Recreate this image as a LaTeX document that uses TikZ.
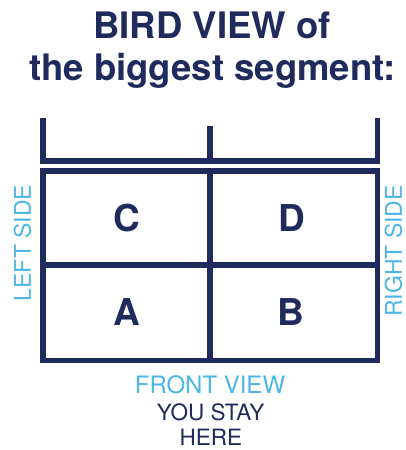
\documentclass[tikz,border=0pt]{standalone}
\usepackage{fontspec}
\setmainfont{TeX Gyre Heros}
\usetikzlibrary{positioning}
\definecolor{navy}{HTML}{1F2B5D}
\definecolor{sky}{HTML}{4CB6E6}

\begin{document}
\begin{tikzpicture}[
  x=1pt,y=-1pt,
  title/.style={anchor=base,inner sep=0pt,text=navy,font=\fontsize{36.5}{42}\selectfont\bfseries},
  cell/.style={inner sep=0pt,text=navy,font=\fontsize{37}{44}\selectfont\bfseries},
  side/.style={inner sep=0pt,rotate=90,text=sky,font=\fontsize{23}{28}\selectfont},
  note/.style={anchor=base,inner sep=0pt,font=\fontsize{22.5}{27}\selectfont},
  wall/.style={line width=5.5pt,draw=navy}
]
\useasboundingbox (0,0) rectangle (406,450);
% title
\node[title] (head1) at (212,38) {BIRD VIEW of};
\node[title] (head2) at (212.5,80) {the biggest segment:};
% back bracket
\draw[wall] (43,118) -- (43,161) -- (377.5,161) -- (377.5,118);
\draw[wall] (210,126) -- (210,161);
% grid
\draw[wall] (43,171) rectangle (377.5,360.5);
\draw[wall] (43,265) -- (377.5,265);
\draw[wall] (210,171) -- (210,360.5);
\node[cell] (C) at (126.5,218) {C};
\node[cell] (D) at (292,218) {D};
\node[cell] (A) at (127,312) {A};
\node[cell] (B) at (291,312) {B};
% sides
\node[side] (left) at (22.5,243) {LEFT SIDE};
\node[side] (right) at (393.5,251) {RIGHT SIDE};
% front
\node[note,text=sky,font=\fontsize{24}{28}\selectfont] (front) at (210,393.5) {FRONT VIEW};
\node[note,text=navy] (stay) at (210.5,420.5) {YOU STAY};
\node[note,text=navy] (here) at (210.8,445) {HERE};
\end{tikzpicture}
\end{document}
